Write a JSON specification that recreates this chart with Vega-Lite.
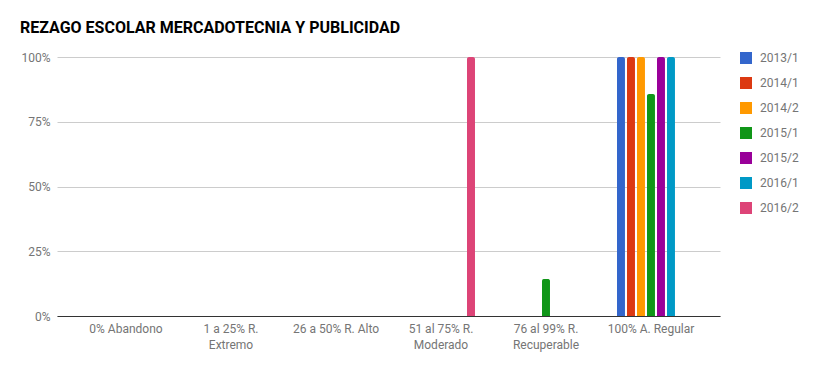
{
  "$schema": "https://vega.github.io/schema/vega-lite/v6.json",
  "width": 663,
  "height": 259,
  "autosize": {"type": "none"},
  "padding": {"left": 57, "top": 57, "right": 99, "bottom": 55},
  "background": "white",
  "title": {
    "text": "REZAGO ESCOLAR MERCADOTECNIA Y PUBLICIDAD",
    "anchor": "start",
    "frame": "group",
    "dx": -37,
    "offset": 15,
    "font": "Roboto",
    "fontSize": 16,
    "fontWeight": "bold",
    "color": "#000000"
  },
  "data": {
    "values": [
      {"categoria": "51 al 75% R. Moderado", "periodo": "2016/2", "valor": 1.0},
      {"categoria": "76 al 99% R. Recuperable", "periodo": "2015/1", "valor": 0.143},
      {"categoria": "100% A. Regular", "periodo": "2013/1", "valor": 1.0},
      {"categoria": "100% A. Regular", "periodo": "2014/1", "valor": 1.0},
      {"categoria": "100% A. Regular", "periodo": "2014/2", "valor": 1.0},
      {"categoria": "100% A. Regular", "periodo": "2015/1", "valor": 0.857},
      {"categoria": "100% A. Regular", "periodo": "2015/2", "valor": 1.0},
      {"categoria": "100% A. Regular", "periodo": "2016/1", "valor": 1.0}
    ]
  },
  "mark": {"type": "bar", "cornerRadiusTopLeft": 2, "cornerRadiusTopRight": 2},
  "encoding": {
    "x": {
      "field": "categoria",
      "type": "nominal",
      "scale": {
        "domain": ["0% Abandono", "1 a 25% R. Extremo", "26 a 50% R. Alto", "51 al 75% R. Moderado", "76 al 99% R. Recuperable", "100% A. Regular"],
        "paddingInner": 0.3333,
        "paddingOuter": 0.324
      },
      "axis": {
        "title": null,
        "labelAngle": 0,
        "labelFont": "Roboto",
        "labelFontSize": 12,
        "labelColor": "#757575",
        "labelPadding": 7,
        "labelLineHeight": 16,
        "ticks": false,
        "domain": true,
        "domainColor": "#333333",
        "domainWidth": 1,
        "labelExpr": "indexof(['1 a 25% R. Extremo','51 al 75% R. Moderado','76 al 99% R. Recuperable'], datum.value) >= 0 ? [slice(datum.value, 0, indexof(datum.value, 'R.') + 2), slice(datum.value, indexof(datum.value, 'R.') + 3)] : datum.value"
      }
    },
    "xOffset": {
      "field": "periodo",
      "type": "nominal",
      "scale": {
        "domain": ["2013/1", "2014/1", "2014/2", "2015/1", "2015/2", "2016/1", "2016/2"],
        "paddingInner": 0.2,
        "paddingOuter": 0.1
      }
    },
    "y": {
      "field": "valor",
      "type": "quantitative",
      "scale": {"domain": [0, 1], "nice": false},
      "axis": {
        "title": null,
        "values": [0, 0.25, 0.5, 0.75, 1],
        "format": ".0%",
        "labelFont": "Roboto",
        "labelFontSize": 12,
        "labelColor": "#757575",
        "labelPadding": 7,
        "ticks": false,
        "domain": false,
        "gridColor": "#cccccc",
        "gridWidth": 1
      }
    },
    "color": {
      "field": "periodo",
      "type": "nominal",
      "scale": {
        "domain": ["2013/1", "2014/1", "2014/2", "2015/1", "2015/2", "2016/1", "2016/2"],
        "range": ["#3366cc", "#dc3912", "#ff9900", "#109618", "#990099", "#0099c6", "#dd4477"]
      },
      "legend": {
        "title": null,
        "orient": "none",
        "legendX": 683,
        "legendY": -5,
        "symbolType": "square",
        "symbolSize": 144,
        "symbolStrokeWidth": 0,
        "symbolOpacity": 1,
        "labelFont": "Roboto",
        "labelFontSize": 12,
        "labelColor": "#757575",
        "labelOffset": 8,
        "rowPadding": 13
      }
    }
  },
  "config": {
    "view": {"stroke": null}
  }
}
